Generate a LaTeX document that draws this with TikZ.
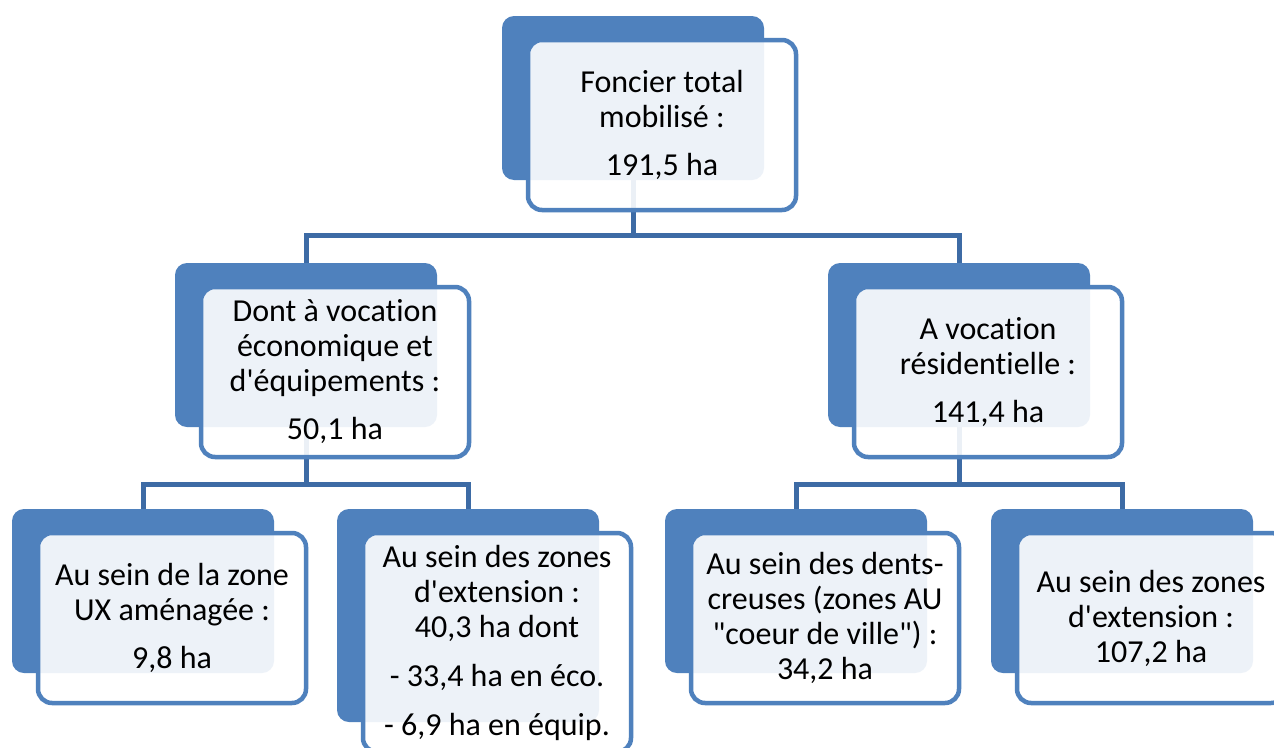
\documentclass[tikz,border=0pt]{standalone}
\usepackage{fontspec}
\setmainfont{Carlito}[Ligatures={NoCommon}]
\usetikzlibrary{backgrounds}
\definecolor{accent}{HTML}{4F81BD}
\definecolor{connc}{HTML}{3D6BA5}
\begin{document}
\begin{tikzpicture}[x=1pt,y=-1pt,
  backbox/.style={fill=accent, draw=none, rounded corners=12pt, minimum width=262pt, minimum height=164pt, anchor=north west, inner sep=0pt, outer sep=0pt},
  frontbox/.style={draw=accent, line width=4.5pt, fill=white, fill opacity=0.9, text opacity=1, rounded corners=14pt, minimum width=268pt, minimum height=170pt, anchor=north west, inner sep=0pt, outer sep=0pt, align=center, font=\fontsize{32}{35}\selectfont, text=black},
  conn/.style={draw=connc, line width=5pt}]
\useasboundingbox (0,0) rectangle (1274,747);
\clip (0,0) rectangle (1274,747);
% back boxes
\node[backbox] (b0) at (502,16) {};
\node[backbox] (b1) at (175,263) {};
\node[backbox] (b2) at (828,263) {};
\node[backbox] (b3) at (12,509) {};
\node[backbox, minimum height=213pt] (b4) at (337,509) {};
\node[backbox] (b5) at (665,509) {};
\node[backbox] (b6) at (991,509) {};
% front boxes
\node[frontbox] (f0) at (528,40) {Foncier total\\mobilisé :\\[13pt]191,5 ha};
\node[frontbox] (f1) at (201,287) {Dont à vocation\\économique et\\d\textquotesingle équipements :\\[13pt]50,1 ha};
\node[frontbox] (f2) at (854,287) {A vocation\\résidentielle :\\[13pt]141,4 ha};
\node[frontbox] (f3) at (38,533) {Au sein de la zone\\UX aménagée :\\[13pt]9,8 ha};
\node[frontbox, minimum height=219pt] (f4) at (363,533) {Au sein des zones\\d\textquotesingle extension :\\40,3 ha dont\\[14pt]- 33,4 ha en éco.\\[14pt]- 6,9 ha en équip.};
\node[frontbox] (f5) at (691,533) {Au sein des dents-\\creuses (zones AU\\\textquotedbl coeur de ville\textquotedbl) :\\34,2 ha};
\node[frontbox] (f6) at (1017,533) {Au sein des zones\\d\textquotesingle extension :\\107,2 ha};
% connectors
\begin{scope}[on background layer]
\fill[white] (0,0) rectangle (1274,747);
\draw[conn] (b0.south) -- ++(0,55) -| (b1.north);
\draw[conn] (b0.south) -- ++(0,55) -| (b2.north);
\draw[conn] (b1.south) -- ++(0,57) -| (b3.north);
\draw[conn] (b1.south) -- ++(0,57) -| (b4.north);
\draw[conn] (b2.south) -- ++(0,57) -| (b5.north);
\draw[conn] (b2.south) -- ++(0,57) -| (b6.north);
\end{scope}
\end{tikzpicture}
\end{document}
